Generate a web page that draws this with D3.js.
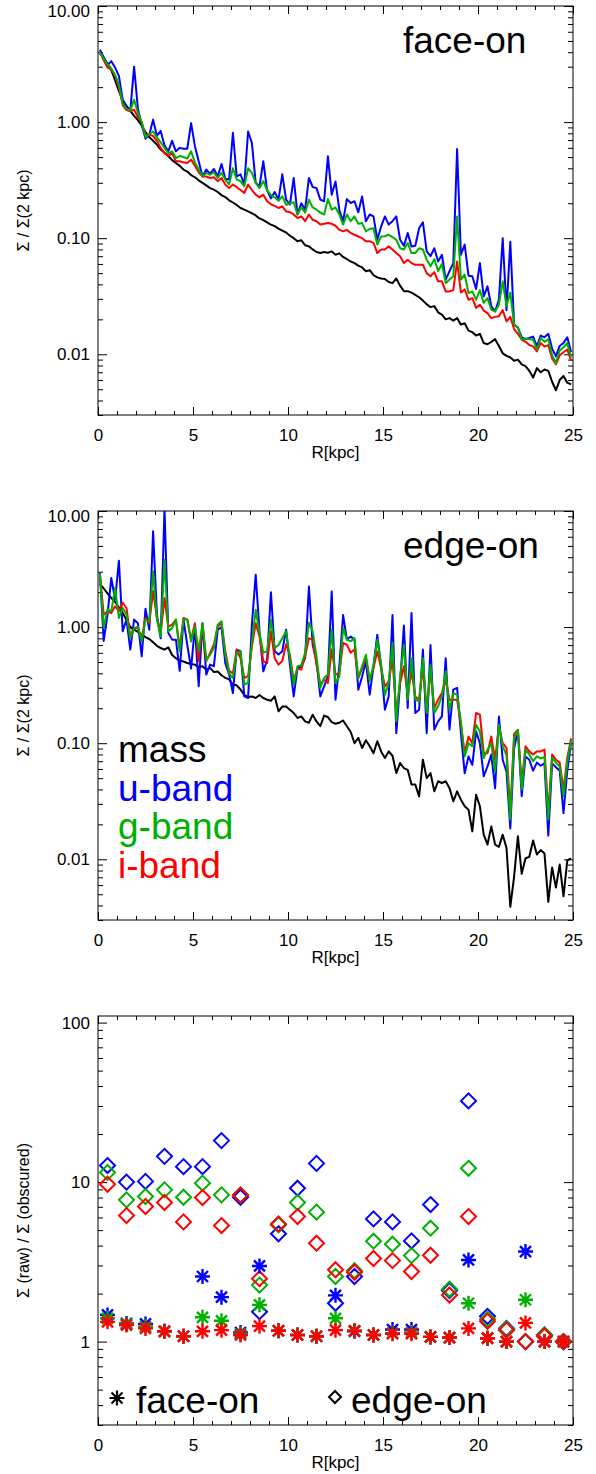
<html>
<head>
<meta charset="utf-8">
<style>
  body { margin: 0; background: #fff; }
  text { font-family: "Liberation Sans", Arial, Helvetica, sans-serif; }
</style>
</head>
<body>
<svg width="596" height="1474" id="chart"></svg>
<script src="https://cdn.jsdelivr.net/npm/d3@7"></script>
<script>
// radial bins (kpc)
var R = [0.1,0.3,0.5,0.7,0.9,1.1,1.3,1.5,1.7,1.9, 2.1,2.3,2.5,2.7,2.9,3.1,3.3,3.5,3.7,3.9,
  4.1,4.3,4.5,4.7,4.9,5.1,5.3,5.5,5.7,5.9, 6.1,6.3,6.5,6.7,6.9,7.1,7.3,7.5,7.7,7.9,
  8.1,8.3,8.5,8.7,8.9,9.1,9.3,9.5,9.7,9.9, 10.1,10.3,10.5,10.7,10.9,11.1,11.3,11.5,11.7,11.9,
  12.1,12.3,12.5,12.7,12.9,13.1,13.3,13.5,13.7,13.9, 14.1,14.3,14.5,14.7,14.9,15.1,15.3,15.5,15.7,15.9,
  16.1,16.3,16.5,16.7,16.9,17.1,17.3,17.5,17.7,17.9, 18.1,18.3,18.5,18.7,18.9,19.1,19.3,19.5,19.7,19.9,
  20.1,20.3,20.5,20.7,20.9,21.1,21.3,21.5,21.7,21.9, 22.1,22.3,22.5,22.7,22.9,23.1,23.3,23.5,23.7,23.9,
  24.1,24.3,24.5,24.7,24.9];

// face-on profiles, normalised to 2 kpc
var faceMass = [3.9,3.6,3.2,2.8,2.3,1.85,1.55,1.38,1.25,1.13,
  1.04,0.93,0.82,0.74,0.69,0.64,0.58,0.545,0.51,0.47,
  0.445,0.42,0.39,0.375,0.35,0.335,0.315,0.30,0.285,0.27,
  0.262,0.25,0.235,0.226,0.212,0.203,0.193,0.182,0.176,0.170,
  0.164,0.157,0.148,0.143,0.137,0.131,0.127,0.121,0.116,0.112,
  0.105,0.100,0.094,0.096,0.087,0.085,0.080,0.076,0.0745,0.076,
  0.075,0.077,0.072,0.074,0.069,0.066,0.063,0.061,0.058,0.056,
  0.052,0.053,0.048,0.046,0.045,0.0445,0.042,0.041,0.045,0.039,
  0.035,0.035,0.034,0.0325,0.031,0.029,0.027,0.0255,0.026,0.023,
  0.022,0.020,0.0205,0.0195,0.0205,0.018,0.0185,0.016,0.0155,0.0145,
  0.015,0.0125,0.0122,0.0128,0.0135,0.0118,0.0102,0.0097,0.0094,0.0088,
  0.0090,0.0082,0.0079,0.0072,0.0063,0.0076,0.0070,0.0074,0.0072,0.0058,
  0.0049,0.0060,0.0065,0.0057,0.0055];
var faceU = [4.2,3.6,3.1,3.35,2.95,2.5,1.55,1.35,1.25,3.0,
  1.3,0.95,0.72,0.78,1.05,0.76,0.84,0.63,0.56,0.69,
  0.56,0.60,0.59,0.59,0.98,0.62,0.46,0.34,0.39,0.36,
  0.395,0.34,0.435,0.325,0.32,0.81,0.34,0.355,0.29,0.83,
  0.66,0.30,0.28,0.46,0.26,0.22,0.25,0.215,0.355,0.215,
  0.195,0.33,0.16,0.20,0.176,0.33,0.276,0.27,0.215,0.208,
  0.507,0.237,0.308,0.175,0.14,0.217,0.201,0.208,0.167,0.229,
  0.140,0.160,0.154,0.097,0.126,0.154,0.131,0.14,0.154,0.097,
  0.086,0.111,0.085,0.086,0.122,0.137,0.077,0.070,0.082,0.063,
  0.072,0.044,0.052,0.061,0.586,0.072,0.088,0.0475,0.047,0.0365,
  0.061,0.0316,0.0385,0.0259,0.0234,0.0295,0.100,0.024,0.093,0.018,
  0.017,0.014,0.0135,0.0138,0.0142,0.0117,0.0145,0.014,0.015,0.0112,
  0.0096,0.0118,0.0125,0.014,0.0104];
var faceG = [4.0,3.5,3.15,2.9,2.55,2.1,1.45,1.3,1.26,1.56,
  1.2,1.0,0.74,0.79,0.83,0.74,0.67,0.60,0.54,0.56,
  0.49,0.51,0.50,0.485,0.56,0.45,0.39,0.34,0.365,0.352,
  0.37,0.33,0.365,0.32,0.29,0.40,0.32,0.31,0.28,0.40,
  0.365,0.30,0.27,0.31,0.26,0.235,0.225,0.21,0.23,0.194,
  0.20,0.204,0.160,0.184,0.166,0.215,0.184,0.176,0.166,0.160,
  0.217,0.176,0.184,0.160,0.131,0.160,0.140,0.154,0.133,0.135,
  0.1145,0.120,0.122,0.088,0.1035,0.104,0.107,0.102,0.097,0.082,
  0.080,0.091,0.0745,0.0745,0.082,0.080,0.0653,0.0572,0.066,0.052,
  0.060,0.041,0.044,0.047,0.154,0.044,0.0485,0.0337,0.0348,0.0295,
  0.0357,0.0277,0.0305,0.0242,0.0234,0.0267,0.0425,0.026,0.034,0.018,
  0.017,0.0134,0.0137,0.0135,0.0134,0.011,0.0138,0.0128,0.0135,0.0098,
  0.0084,0.0108,0.0115,0.0125,0.0094];
var faceI = [4.0,3.4,2.95,2.85,2.5,2.0,1.4,1.27,1.24,1.28,
  1.1,1.0,0.77,0.78,0.76,0.69,0.60,0.54,0.51,0.54,
  0.46,0.46,0.45,0.445,0.475,0.42,0.37,0.34,0.34,0.33,
  0.335,0.31,0.33,0.29,0.27,0.29,0.275,0.26,0.245,0.29,
  0.26,0.237,0.225,0.237,0.208,0.196,0.19,0.182,0.188,0.17,
  0.168,0.160,0.149,0.154,0.140,0.160,0.144,0.140,0.131,0.133,
  0.135,0.133,0.128,0.118,0.1145,0.118,0.111,0.107,0.1035,0.100,
  0.094,0.094,0.091,0.0745,0.080,0.080,0.085,0.080,0.0745,0.070,
  0.061,0.0653,0.061,0.059,0.059,0.059,0.050,0.047,0.051,0.0425,
  0.0425,0.0348,0.0348,0.0357,0.063,0.034,0.0362,0.0295,0.0305,0.0251,
  0.0267,0.0238,0.0226,0.0205,0.021,0.0213,0.024,0.0192,0.021,0.0165,
  0.015,0.0134,0.0128,0.0120,0.0117,0.0106,0.0125,0.0117,0.012,0.0092,
  0.0082,0.0098,0.0104,0.0110,0.0088];

// edge-on profiles
var edgeMass = [2.35,2.15,1.95,1.78,1.65,1.48,1.32,1.15,1.0,0.95,
  0.91,0.86,0.82,0.79,0.74,0.69,0.66,0.64,0.67,0.575,
  0.54,0.515,0.505,0.49,0.48,0.475,0.45,0.46,0.43,0.445,
  0.41,0.415,0.385,0.365,0.355,0.32,0.315,0.29,0.26,0.25,
  0.253,0.245,0.26,0.245,0.237,0.232,0.253,0.188,0.207,0.207,
  0.194,0.182,0.165,0.170,0.154,0.150,0.176,0.154,0.140,0.173,
  0.168,0.152,0.147,0.150,0.157,0.14,0.125,0.100,0.111,0.091,
  0.106,0.094,0.082,0.104,0.085,0.0745,0.085,0.078,0.0553,0.0675,
  0.061,0.059,0.044,0.044,0.0348,0.072,0.050,0.0553,0.0385,0.047,
  0.0454,0.047,0.041,0.0316,0.0385,0.0326,0.0286,0.0267,0.0174,0.036,
  0.0286,0.0163,0.0134,0.0192,0.0134,0.0128,0.0163,0.0125,0.0039,0.0071,
  0.0158,0.0075,0.0102,0.0105,0.0145,0.011,0.012,0.0112,0.0043,0.0085,
  0.0057,0.0090,0.0048,0.0098,0.0102];
var edgeU = [2.93,0.76,1.28,2.65,1.72,3.73,0.92,1.16,0.64,1.16,
  1.08,0.56,1.44,0.95,6.68,1.28,0.80,10.5,0.89,0.78,
  0.78,0.42,1.16,0.70,0.44,1.01,0.31,1.08,0.39,0.475,
  0.46,0.95,1.0,0.49,0.39,0.27,0.64,0.62,0.253,0.245,
  1.05,2.83,0.92,0.416,0.52,2.0,0.62,0.58,0.62,0.95,
  0.475,0.253,0.444,0.46,0.54,2.24,0.70,0.51,0.253,0.308,
  0.376,2.03,0.237,0.46,1.27,0.78,0.83,0.78,0.289,0.376,
  0.507,0.262,0.46,0.86,0.46,0.194,0.253,1.27,0.122,0.33,
  1.03,0.201,1.32,0.182,0.194,0.64,0.122,0.70,0.131,0.154,
  0.170,0.54,0.131,0.289,0.30,0.122,0.055,0.077,0.065,0.126,
  0.100,0.052,0.063,0.080,0.041,0.170,0.072,0.057,0.0184,0.090,
  0.13,0.035,0.077,0.072,0.058,0.068,0.064,0.067,0.016,0.067,
  0.062,0.058,0.025,0.058,0.10];
var edgeG = [2.9,0.99,1.42,1.37,2.17,1.20,1.46,1.28,0.80,0.98,
  1.01,0.75,1.16,1.12,3.02,1.16,0.83,3.8,0.92,0.98,
  1.16,0.62,1.16,1.16,0.75,1.01,0.62,1.08,0.52,0.58,
  0.66,1.05,1.12,0.58,0.40,0.364,0.60,0.62,0.32,0.33,
  0.73,1.41,0.89,0.60,0.62,1.16,0.66,0.70,0.80,0.92,
  0.54,0.32,0.46,0.47,0.60,1.09,0.92,0.56,0.30,0.364,
  0.39,0.95,0.33,0.376,0.98,0.78,0.754,0.805,0.364,0.46,
  0.578,0.341,0.474,0.778,0.474,0.261,0.33,0.73,0.154,0.376,
  0.705,0.237,0.54,0.237,0.229,0.54,0.182,0.474,0.182,0.208,
  0.253,0.416,0.194,0.270,0.261,0.154,0.077,0.100,0.094,0.144,
  0.126,0.0745,0.088,0.100,0.057,0.144,0.094,0.079,0.022,0.110,
  0.13,0.040,0.088,0.080,0.070,0.077,0.074,0.076,0.022,0.075,
  0.068,0.063,0.035,0.068,0.105];
var edgeI = [2.8,1.28,1.37,1.32,1.51,1.37,1.62,1.46,0.83,0.98,
  0.98,0.80,1.20,1.08,2.05,1.20,0.89,1.78,1.01,1.05,
  1.16,0.66,1.20,1.16,0.78,1.08,0.51,1.05,0.51,0.60,
  0.71,1.01,1.08,0.62,0.42,0.40,0.64,0.54,0.364,0.38,
  0.68,1.08,0.83,0.51,0.49,0.92,0.54,0.475,0.51,0.71,
  0.58,0.35,0.44,0.43,0.56,0.80,0.78,0.474,0.32,0.352,
  0.33,0.64,0.39,0.40,0.73,0.705,0.60,0.64,0.364,0.444,
  0.54,0.352,0.444,0.618,0.444,0.308,0.341,0.524,0.182,0.33,
  0.46,0.261,0.416,0.253,0.237,0.444,0.194,0.416,0.201,0.237,
  0.270,0.352,0.237,0.237,0.237,0.144,0.082,0.114,0.100,0.182,
  0.176,0.082,0.082,0.114,0.072,0.140,0.100,0.091,0.025,0.12,
  0.13,0.045,0.094,0.085,0.080,0.085,0.085,0.088,0.025,0.080,
  0.072,0.068,0.040,0.075,0.11];

// raw / obscured ratio, 1 kpc bins
var binR = [0.5,1.5,2.5,3.5,4.5,5.5,6.5,7.5,8.5,9.5,10.5,11.5,12.5,13.5,14.5,15.5,16.5,17.5,18.5,19.5,20.5,21.5,22.5,23.5,24.5];
var ratioFaceU = [1.47,1.30,1.29,1.16,1.08,2.56,1.90,1.14,2.98,1.17,1.10,1.08,1.95,1.16,1.10,1.19,1.19,1.07,1.06,3.25,1.05,1.0,3.67,1.0,1.0];
var ratioFaceG = [1.40,1.29,1.24,1.16,1.08,1.42,1.35,1.12,1.70,1.17,1.10,1.08,1.40,1.17,1.10,1.13,1.14,1.07,1.06,1.74,1.05,1.0,1.83,1.0,1.0];
var ratioFaceI = [1.33,1.27,1.21,1.16,1.08,1.16,1.18,1.10,1.25,1.17,1.10,1.08,1.18,1.17,1.10,1.12,1.12,1.07,1.06,1.21,1.05,1.0,1.31,1.0,1.0];
var ratioEdgeU = [12.7,10.0,10.1,14.5,12.5,12.5,18.2,8.04,1.54,4.74,9.16,13.1,1.74,2.56,5.88,5.63,4.28,7.23,2.09,32.3,1.44,1.21,1.0,1.1,1.0];
var ratioEdgeG = [11.5,7.74,8.12,8.94,8.04,9.85,8.32,8.3,2.26,5.39,7.45,6.48,2.56,2.78,4.26,4.08,3.46,5.14,2.13,12.2,1.38,1.2,1.0,1.1,1.0];
var ratioEdgeI = [9.70,6.17,7.03,7.45,5.63,8.0,5.34,8.28,2.48,5.47,6.08,4.14,2.82,2.72,3.32,3.22,2.75,3.48,1.96,6.08,1.34,1.18,1.0,1.08,1.0];

var xTicks = [0,5,10,15,20,25];
var profTicks = [0.01,0.1,1,10];
var ratioTicks = [1,10,100];
var bandNames = ["mass","u-band","g-band","i-band"];
var bandColors = ["#000000","#0000ff","#00b000","#ff0000"];

var svg = d3.select("#chart");
var left = 98, right = 573;

var x = d3.scaleLinear().domain([0,25]).range([left,right]);

function frame(top, bottom, y, majors, fmt, id) {
  var g = svg.append("g");
  // x ticks, inward on bottom and top
  g.append("g").attr("transform","translate(0,"+bottom+")")
    .call(d3.axisBottom(x).tickValues(xTicks).tickSize(-8).tickPadding(14).tickFormat(d3.format("d")));
  g.append("g").attr("transform","translate(0,"+bottom+")")
    .call(d3.axisBottom(x).tickValues(d3.range(0,26,1)).tickSize(-4).tickFormat(""));
  g.append("g").attr("transform","translate(0,"+top+")")
    .call(d3.axisTop(x).tickValues(xTicks).tickSize(-8).tickFormat(""));
  g.append("g").attr("transform","translate(0,"+top+")")
    .call(d3.axisTop(x).tickValues(d3.range(0,26,1)).tickSize(-4).tickFormat(""));
  var minors = y.ticks().filter(function(t){ return majors.indexOf(+t.toPrecision(3)) < 0; });
  var ly = g.append("g").attr("transform","translate("+left+",0)")
    .call(d3.axisLeft(y).tickValues(majors).tickSize(-9).tickPadding(8).tickFormat(fmt));
  g.append("g").attr("transform","translate("+left+",0)")
    .call(d3.axisLeft(y).tickValues(minors).tickSize(-5).tickFormat(""));
  g.append("g").attr("transform","translate("+right+",0)")
    .call(d3.axisRight(y).tickValues(majors).tickSize(-9).tickFormat(""));
  g.append("g").attr("transform","translate("+right+",0)")
    .call(d3.axisRight(y).tickValues(minors).tickSize(-5).tickFormat(""));
  g.selectAll(".domain").remove();
  g.selectAll(".tick line").attr("stroke","#000");
  g.selectAll(".tick text").attr("font-size",17).attr("fill","#000")
    .style("font-family","Liberation Sans, Arial, sans-serif");
  // the label sitting on the top edge is nudged down, as in the original
  ly.selectAll(".tick text").filter(function(d){ return y(d) - top < 4; }).attr("dy","0.62em");
  g.append("rect").attr("x",left).attr("y",top).attr("width",right-left).attr("height",bottom-top)
    .attr("fill","none").attr("stroke","#000").attr("stroke-width",1);
  g.append("text").attr("x",(left+right)/2).attr("y",bottom+43).attr("text-anchor","middle")
    .attr("font-size",17).text("R[kpc]");

  svg.append("clipPath").attr("id",id).append("rect")
    .attr("x",left).attr("y",top).attr("width",right-left).attr("height",bottom-top);
}

function yTitle(top, bottom, label) {
  svg.append("text")
    .attr("transform","translate(29,"+((top+bottom)/2)+") rotate(-90)")
    .attr("text-anchor","middle").attr("font-size",16).text(label);
}

function profilePanel(top, bottom, series, title, id) {
  var y = d3.scaleLog().domain([0.003,10]).range([bottom,top]);
  frame(top, bottom, y, profTicks, d3.format(".2f"), id);
  yTitle(top, bottom, "\u03A3 / \u03A3(2 kpc)");
  var line = d3.line().x(function(d){ return x(d[0]); }).y(function(d){ return y(d[1]); });
  var order = [0,1,3,2];
  var lg = svg.append("g").attr("clip-path","url(#"+id+")");
  order.forEach(function(k){
    lg.append("path").datum(d3.zip(R, series[k]))
      .attr("fill","none").attr("stroke",bandColors[k]).attr("stroke-width",2)
      .attr("stroke-linejoin","round").attr("d",line);
  });
  svg.append("text").attr("x",403).attr("y",top+47).attr("font-size",37).text(title);
}

profilePanel(6, 415, [faceMass,faceU,faceG,faceI], "face-on", "clip1");
profilePanel(511, 920, [edgeMass,edgeU,edgeG,edgeI], "edge-on", "clip2");

// colour legend in the edge-on panel
bandNames.forEach(function(n,i){
  svg.append("text").attr("x",118).attr("y",762+38.5*i).attr("font-size",37)
    .attr("fill",bandColors[i]).text(n);
});

// ratio panel
var top3 = 1016, bot3 = 1425;
var y3 = d3.scaleLog().domain([0.3,110]).range([bot3,top3]);
frame(top3, bot3, y3, ratioTicks, d3.format("d"), "clip3");
yTitle(top3, bot3, "\u03A3 (raw) / \u03A3 (obscured)");

var diamond = "M0,-7.5L7.5,0L0,7.5L-7.5,0Z";
var star = "M-7.5,0H7.5M0,-7.5V7.5M-5.5,-5.5L5.5,5.5M-5.5,5.5L5.5,-5.5";
var mg = svg.append("g").attr("clip-path","url(#clip3)");
function marks(vals, shape, col, w) {
  mg.selectAll(null).data(d3.zip(binR, vals)).enter().append("path")
    .attr("transform",function(d){ return "translate("+x(d[0])+","+y3(d[1])+")"; })
    .attr("d",shape).attr("fill","none").attr("stroke",col).attr("stroke-width",w);
}
marks(ratioEdgeU, diamond, bandColors[1], 2);
marks(ratioEdgeG, diamond, bandColors[2], 2);
marks(ratioEdgeI, diamond, bandColors[3], 2);
marks(ratioFaceU, star, bandColors[1], 2.4);
marks(ratioFaceG, star, bandColors[2], 2.4);
marks(ratioFaceI, star, bandColors[3], 2.4);

svg.append("path").attr("transform","translate(117,1398)").attr("d",star)
  .attr("fill","none").attr("stroke","#000").attr("stroke-width",2.2);
svg.append("text").attr("x",136).attr("y",1413).attr("font-size",37).text("face-on");
svg.append("path").attr("transform","translate(335,1397)").attr("d","M0,-6L6,0L0,6L-6,0Z")
  .attr("fill","none").attr("stroke","#000").attr("stroke-width",2);
svg.append("text").attr("x",351).attr("y",1413).attr("font-size",37).text("edge-on");
</script>
</body>
</html>
